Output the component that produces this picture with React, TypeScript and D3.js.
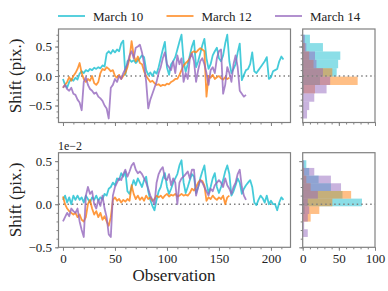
import React, { useRef, useEffect } from "react";
import * as d3 from "d3";

// values every second observation
const STEP = 2;

const seriesNames = ["March 10", "March 12", "March 14"];
const seriesColors = ["#17becf", "#ff7f0e", "#9467bd"];

// upper panel: shift in pixels
const topMarch10 = [
  -0.05, -0.15, -0.2, -0.1, -0.05, -0.08, -0.03, -0.06, 0.04, 0.08, 0.05, 0.1, 0.08, 0.12, 0.1, 0.14,
  0.12, 0.15, 0.13, 0.18, 0.16, 0.38, 0.42, 0.38, 0.44, 0.4, 0.45, 0.42, 0.55, 0.6, 0.02, 0.25,
  0.28, 0.24, 0.27, 0.22, 0.26, 0.3, 0.35, 0.32, 0.1, 0.02, 0.06, 0.0, 0.08, 0.04, 0.15, 0.3,
  0.45, 0.58, 0.15, 0.02, 0.2, 0.25, 0.32, 0.45, 0.58, 0.7, 0.25, 0.07, 0.2, 0.35, 0.5, 0.6,
  0.15, 0.25, 0.38, 0.52, 0.63, 0.3, 0.12, 0.2, 0.35, 0.42, 0.48, 0.3, 0.25, 0.35, 0.55, 0.7,
  0.25, 0.05, 0.12, 0.2, 0.4, 0.55, -0.07, 0.02, 0.1, 0.12, 0.2, 0.4, 0.08, 0.05, 0.1, 0.15,
  0.2, 0.25, 0.32, -0.05, -0.02, 0.08, 0.1, 0.12, 0.25, 0.33, 0.28,
];
const topMarch12 = [
  -0.2, -0.15, -0.1, -0.02, -0.08, 0.0, 0.05, 0.12, 0.22, 0.05, -0.05, -0.1, -0.05, -0.08, 0.0, -0.12,
  -0.15, -0.1, 0.05, 0.12, 0.1, 0.15, 0.12, 0.08, 0.1, 0.0, -0.03, 0.02, -0.05, 0.0, 0.05, 0.15,
  0.3, 0.59, 0.35, 0.25, 0.33, 0.22, 0.2, 0.08, 0.0, -0.05, -0.1, -0.08, -0.12, -0.15, -0.14, -0.17,
  -0.15, -0.16, -0.13, -0.14, -0.1, -0.08, -0.05, -0.05, 0.02, 0.1, 0.18, 0.22, 0.25, 0.3, 0.4, 0.42,
  0.4, 0.44, 0.47, 0.45, 0.42, -0.35, 0.0, -0.03, 0.02, -0.05, -0.02, 0.0, -0.04, -0.06, -0.02, -0.05,
  -0.03,
];
const topMarch14 = [
  -0.2, -0.15, -0.22, -0.25, -0.2, -0.3, -0.32, -0.4, -0.45, -0.58, -0.1, -0.02, -0.15, -0.22, -0.25, -0.3,
  -0.28, -0.35, -0.38, -0.42, -0.5, -0.55, -0.72, -0.2, -0.15, -0.05, -0.1, 0.0, -0.05, 0.05, 0.12, 0.2,
  0.35, 0.42, 0.3, 0.48, 0.5, 0.53, 0.4, 0.2, -0.1, -0.55, -0.4, -0.3, -0.2, -0.1, 0.05, 0.15,
  0.3, 0.4, 0.2, 0.15, 0.1, 0.25, 0.05, 0.35, 0.2, 0.3, -0.1, 0.05, -0.05, 0.3, 0.38, 0.25,
  -0.1, 0.1, 0.25, 0.3, 0.2, 0.05, -0.15, 0.1, 0.15, 0.05, 0.3, 0.42, 0.45, -0.3, -0.15, 0.15,
  0.05, -0.1, 0.2, 0.35, 0.15, -0.25, -0.3, -0.35, -0.32,
];

// lower panel: shift in 1e-2 pixels
const lowMarch10 = [
  0.05, 0.1, 0.02, 0.08, 0.0, 0.1, 0.05, 0.1, 0.05, 0.08, 0.02, 0.1, 0.06, 0.02, 0.08, 0.05,
  0.1, 0.04, 0.08, 0.06, 0.12, 0.1, 0.18, 0.2, 0.25, 0.22, 0.3, 0.28, 0.36, 0.32, 0.38, 0.15,
  0.12, 0.2, 0.28, 0.22, 0.3, 0.25, 0.2, 0.28, 0.32, 0.15, 0.05, -0.02, -0.07, 0.05, 0.15, 0.2,
  0.3, 0.36, 0.2, 0.12, 0.18, 0.25, 0.3, 0.35, 0.45, 0.51, 0.25, 0.13, 0.2, 0.28, 0.35, 0.32,
  0.13, 0.2, 0.3, 0.38, 0.45, 0.25, 0.13, 0.2, 0.3, 0.36, 0.2, 0.13, 0.2, 0.28, 0.38, 0.45,
  0.35, 0.1, 0.15, 0.22, 0.3, 0.25, 0.12, 0.18, 0.22, 0.25, 0.28, 0.2, 0.02, -0.01, 0.05, 0.1,
  0.07, 0.02, 0.1, 0.0, 0.04, 0.0, 0.0, -0.07, 0.02, 0.08, 0.05,
];
const lowMarch12 = [
  0.09, 0.0, -0.05, -0.08, -0.1, -0.12, -0.1, -0.15, -0.12, -0.18, -0.2, -0.15, 0.0, 0.05, -0.05, -0.12,
  -0.08, -0.15, -0.1, -0.18, -0.14, -0.2, -0.25, -0.15, 0.05, 0.08, 0.04, 0.06, 0.02, 0.05, 0.03, 0.06,
  0.04, 0.22, 0.12, 0.06, 0.1, 0.05, 0.08, 0.04, 0.1, 0.06, 0.08, 0.04, 0.06, 0.1, 0.08, 0.1,
  0.07, 0.1, 0.12, 0.09, 0.11, 0.1, 0.12, 0.09, 0.1, 0.12, 0.1, 0.11, 0.1, 0.13, 0.18, 0.16,
  0.2, 0.25, 0.28, 0.27, 0.22, 0.04, 0.08, 0.06, 0.1, 0.07, 0.05, 0.08, 0.06, 0.1, 0.0, 0.08,
  0.1,
];
const lowMarch14 = [
  -0.2, -0.15, -0.1, -0.14, -0.05, -0.08, -0.1, -0.05, -0.2, -0.3, -0.38, 0.1, 0.2, 0.12, 0.15, 0.0,
  -0.05, 0.05, -0.02, 0.1, -0.05, -0.15, -0.35, -0.38, 0.1, 0.2, 0.25, 0.3, 0.28, 0.35, 0.4, 0.32,
  0.38, 0.45, 0.48, 0.4, 0.36, 0.38, 0.35, 0.3, 0.25, 0.18, 0.1, 0.05, 0.0, 0.25, 0.35, 0.4,
  0.43, 0.3, 0.28, 0.35, 0.22, 0.3, 0.25, 0.0, 0.25, 0.3, 0.32, 0.35, 0.38, 0.3, 0.4, 0.4,
  0.1, 0.2, 0.28, 0.25, 0.2, 0.15, 0.1, 0.18, 0.15, 0.22, 0.25, 0.28, 0.25, 0.2, 0.3, 0.22,
  0.18, 0.12, 0.2, 0.25, 0.35, 0.4, 0.2, 0.1, 0.05,
];

// histogram counts, 10 bins from lowest to highest shift
const histTopMarch10 = [0, 0, 0, 2, 24, 47, 49, 52, 28, 10];
const histTopMarch12 = [0, 0, 0, 17, 76, 41, 15, 9, 3, 0];
const histTopMarch14 = [6, 9, 16, 33, 38, 28, 19, 17, 5, 3];
const histLowMarch10 = [0, 0, 0, 3, 82, 55, 39, 22, 9, 5];
const histLowMarch12 = [0, 0, 11, 23, 41, 67, 11, 5, 2, 0];
const histLowMarch14 = [7, 2, 7, 9, 7, 21, 53, 39, 16, 2];

const App = () => {
  const svgRef = useRef(null);

  useEffect(() => {
    const svg = d3.select(svgRef.current);
    svg.selectAll("*").remove();

    const font = "'Liberation Serif', serif";
    const grey = "#808080";

    const x = d3.scaleLinear().domain([-4.3, 218.8]).range([58.5, 290.5]);
    const hx = d3.scaleLinear().domain([0, 100]).range([302.7, 375]);

    const panels = [
      {
        top: 29, bottom: 122.5, domain: [-0.788, 0.797],
        lines: [topMarch10, topMarch12, topMarch14],
        hists: [histTopMarch10, histTopMarch12, histTopMarch14],
        minor: d3.range(-7, 8).map((d) => d / 10),
        xLabels: false, label: 76,
      },
      {
        top: 152.7, bottom: 247.3, domain: [-0.5, 0.598],
        lines: [lowMarch10, lowMarch12, lowMarch14],
        hists: [histLowMarch10, histLowMarch12, histLowMarch14],
        minor: d3.range(-5, 6).map((d) => d / 10),
        xLabels: true, label: 200,
      },
    ];

    const styleAxis = (g) => {
      g.select(".domain").remove();
      g.selectAll("line").attr("stroke", grey).attr("stroke-width", 1);
      g.selectAll("text").attr("font-family", font).attr("font-size", 13).attr("fill", "#222");
    };

    panels.forEach((p) => {
      const y = d3.scaleLinear().domain(p.domain).range([p.bottom, p.top]);

      // histogram bins span the range of all three series
      const all = p.lines.flat();
      const [lo, hi] = d3.extent(all);
      const edges = d3.range(11).map((i) => lo + ((hi - lo) * i) / 10);

      p.hists.forEach((counts, s) => {
        svg
          .append("g")
          .selectAll("rect")
          .data(counts)
          .enter()
          .append("rect")
          .attr("x", hx(0))
          .attr("y", (d, i) => y(edges[i + 1]))
          .attr("width", (d) => hx(d) - hx(0))
          .attr("height", (d, i) => y(edges[i]) - y(edges[i + 1]))
          .attr("fill", seriesColors[s])
          .attr("fill-opacity", 0.5);
      });

      // zero reference
      [x.range(), hx.range()].forEach((r) => {
        svg
          .append("line")
          .attr("x1", r[0]).attr("x2", r[1])
          .attr("y1", y(0)).attr("y2", y(0))
          .attr("stroke", grey)
          .attr("stroke-width", 1.5)
          .attr("stroke-dasharray", "1.5,3");
      });

      const line = d3
        .line()
        .x((d, i) => x(i * STEP))
        .y((d) => y(d));

      p.lines.forEach((vals, s) => {
        svg
          .append("path")
          .datum(vals)
          .attr("d", line)
          .attr("fill", "none")
          .attr("stroke", seriesColors[s])
          .attr("stroke-opacity", 0.8)
          .attr("stroke-width", 1.8)
          .attr("stroke-linejoin", "round");
      });

      // frames
      [x.range(), hx.range()].forEach((r) => {
        svg
          .append("rect")
          .attr("x", r[0]).attr("y", p.top)
          .attr("width", r[1] - r[0]).attr("height", p.bottom - p.top)
          .attr("fill", "none")
          .attr("stroke", grey)
          .attr("stroke-width", 1.2);
      });

      // y ticks on main and histogram
      [x.range()[0], hx.range()[0]].forEach((left, k) => {
        svg.append("g")
          .attr("transform", `translate(${left},0)`)
          .call(d3.axisLeft(y).tickValues(p.minor).tickSize(2).tickFormat(() => ""))
          .call(styleAxis);
        svg.append("g")
          .attr("transform", `translate(${left},0)`)
          .call(
            d3.axisLeft(y).tickValues([-0.5, 0, 0.5]).tickSize(3.5).tickPadding(3)
              .tickFormat(k === 0 ? d3.format(".1f") : () => "")
          )
          .call(styleAxis);
      });

      // x ticks
      const xAxisAt = (scale, major, minor) => {
        svg.append("g")
          .attr("transform", `translate(0,${p.bottom})`)
          .call(d3.axisBottom(scale).tickValues(minor).tickSize(2).tickFormat(() => ""))
          .call(styleAxis);
        svg.append("g")
          .attr("transform", `translate(0,${p.bottom})`)
          .call(
            d3.axisBottom(scale).tickValues(major).tickSize(3.5).tickPadding(3)
              .tickFormat(p.xLabels ? d3.format("d") : () => "")
          )
          .call(styleAxis);
      };
      xAxisAt(x, d3.range(0, 201, 50), d3.range(0, 211, 10));
      xAxisAt(hx, [0, 50, 100], d3.range(0, 101, 10));

      svg.append("text")
        .attr("transform", `translate(21,${p.label}) rotate(-90)`)
        .attr("text-anchor", "middle")
        .attr("font-family", font)
        .attr("font-size", 17)
        .attr("fill", "#222")
        .text("Shift (pix.)");
    });

    svg.append("text")
      .attr("x", 58).attr("y", 150)
      .attr("font-family", font).attr("font-size", 12).attr("fill", "#222")
      .text("1e\u22122");

    svg.append("text")
      .attr("x", 174).attr("y", 281)
      .attr("text-anchor", "middle")
      .attr("font-family", font).attr("font-size", 17).attr("fill", "#222")
      .text("Observation");

    // legend
    const legend = svg.append("g")
      .selectAll("g")
      .data(seriesNames)
      .enter()
      .append("g")
      .attr("transform", (d, i) => `translate(${58 + i * 108.5},16)`);
    legend.append("line")
      .attr("x1", 0).attr("x2", 27)
      .attr("stroke", (d, i) => seriesColors[i])
      .attr("stroke-opacity", 0.8)
      .attr("stroke-width", 1.8);
    legend.append("text")
      .attr("x", 35).attr("y", 4.5)
      .attr("font-family", font).attr("font-size", 13).attr("fill", "#222")
      .text((d) => d);
  }, []);

  return (
    <svg
      ref={svgRef}
      width={388}
      height={291}
      style={{ position: "absolute", left: 0, top: 0, background: "#fff" }}
    />
  );
};

export default App;
